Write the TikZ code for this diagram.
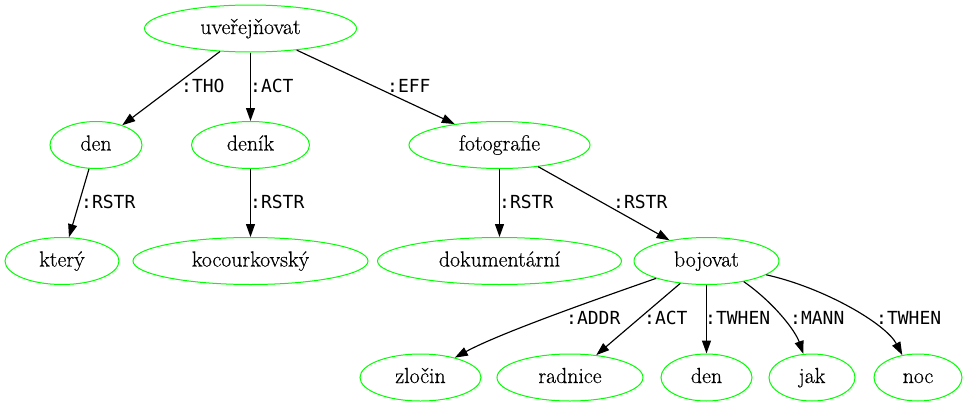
\documentclass[tikz,border=0pt]{standalone}
\usepackage{fontspec}
\newfontfamily\lblfont{DejaVu Sans Mono}
\newfontfamily\ndfont{Latin Modern Roman}[FakeBold=0.4]
\usetikzlibrary{shapes.geometric,arrows.meta}
\definecolor{nodegreen}{RGB}{0,255,0}
\begin{document}
\begin{tikzpicture}[x=1pt,y=-1pt,
  nd/.style={ellipse, draw=nodegreen, line width=1pt, inner sep=0pt,
    minimum height=47pt, text height=16pt, text depth=5pt,
    font=\ndfont\fontsize{21.8}{26}\selectfont},
  lbl/.style={anchor=base west, inner sep=0pt, font=\lblfont\fontsize{18}{22}\selectfont},
  edge/.style={draw, line width=1.15pt, -{Triangle[length=13pt,width=9pt]}}]
\useasboundingbox (0,0) rectangle (967,407);
% nodes
\node[nd, minimum width=212pt] (uv) at (250.5,28.5) {uveřejňovat};
\node[nd, minimum width=92pt] (den1) at (96,145) {den};
\node[nd, minimum width=118pt] (denik) at (250.5,145) {deník};
\node[nd, minimum width=181pt] (foto) at (499.5,145) {fotografie};
\node[nd, minimum width=114pt] (ktery) at (62,261) {který};
\node[nd, minimum width=235pt] (kocour) at (250.5,261) {kocourkovský};
\node[nd, minimum width=244pt] (dok) at (499.5,261) {dokumentární};
\node[nd, minimum width=145pt] (boj) at (706.5,261) {bojovat};
\node[nd, minimum width=121pt] (zlocin) at (420.5,377.5) {zločin};
\node[nd, minimum width=146pt] (radnice) at (570,377.5) {radnice};
\node[nd, minimum width=91pt] (den2) at (706.5,377.5) {den};
\node[nd, minimum width=86pt] (jak) at (812,377.5) {jak};
\node[nd, minimum width=88pt] (noc) at (918,377.5) {noc};
% edges
\draw[edge] (uv) -- (den1);
\draw[edge] (uv) -- (denik);
\draw[edge] (uv) -- (foto);
\draw[edge] (den1) -- (ktery);
\draw[edge] (denik) -- (kocour);
\draw[edge] (foto) -- (dok);
\draw[edge] (foto) -- (boj);
\draw[edge] (boj.199) .. controls (600,298) and (500,333) .. (zlocin.30);
\draw[edge] (boj) -- (radnice);
\draw[edge] (boj) -- (den2);
\draw[edge] (boj.331) .. controls (773,302) and (795,330) .. (jak.110);
\draw[edge] (boj.347) .. controls (825,288) and (886,324) .. (noc.125);
% labels
\node[lbl] (l1) at (181,92.5) {:THO};
\node[lbl] (l2) at (250,92.5) {:ACT};
\node[lbl] (l3) at (387,92.5) {:EFF};
\node[lbl] (l4) at (81,208) {:RSTR};
\node[lbl] (l5) at (250,208) {:RSTR};
\node[lbl] (l6) at (499,208) {:RSTR};
\node[lbl] (l7) at (613,208) {:RSTR};
\node[lbl] (l8) at (566,324) {:ADDR};
\node[lbl] (l9) at (644,324) {:ACT};
\node[lbl] (l10) at (705,324) {:TWHEN};
\node[lbl] (l11) at (790,324) {:MANN};
\node[lbl] (l12) at (876,324) {:TWHEN};
\end{tikzpicture}
\end{document}
